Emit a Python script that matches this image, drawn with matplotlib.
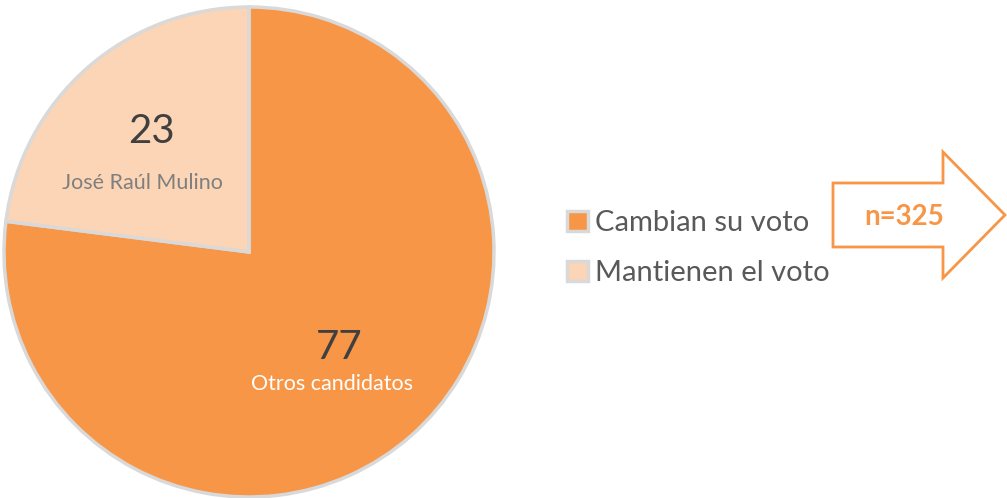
import matplotlib.pyplot as plt
from matplotlib.patches import Polygon

plt.rcParams['font.family'] = ['Lato', 'DejaVu Sans']

categories = ['Cambian su voto', 'Mantienen el voto']
values = [77, 23]
slice_labels = ['Otros candidatos', 'José Raúl Mulino']
colors = ['#F79646', '#FBD5B5']
sample_text = 'n=325'

W, H = 1007, 498
fig = plt.figure(figsize=(W / 100, H / 100), dpi=100)

# pie axes: centre ~ (249, 252), radius ~245 px
r = 245
cx, cy = 249, 252
ax = fig.add_axes([(cx - r) / W, (H - cy - r) / H, 2 * r / W, 2 * r / H])
wedges, _ = ax.pie(values, colors=colors, startangle=90, counterclock=False,
                   wedgeprops=dict(edgecolor='#D9D9D9', linewidth=2.5))
for w in wedges:
    w.set_clip_on(False)
ax.set_xlim(-1, 1)
ax.set_ylim(-1, 1)

# value / label positions inside the slices (axes units)
num_pos = [(0.37, -0.39), (-0.40, 0.49)]
lab_pos = [(0.34, -0.54), (-0.435, 0.28)]
num_colors = ['#404040', '#404040']
lab_colors = ['white', '#7F7F7F']
for v, lbl, npos, lpos, nc, lc in zip(values, slice_labels, num_pos, lab_pos, num_colors, lab_colors):
    ax.text(*npos, str(v), ha='center', va='center', fontsize=29, color=nc)
    ax.text(*lpos, lbl, ha='center', va='center', fontsize=15.5, color=lc)

# overlay in pixel coordinates for legend + arrow
ov = fig.add_axes([0, 0, 1, 1], zorder=-1)
ov.set_xlim(0, W)
ov.set_ylim(H, 0)
ov.axis('off')

arrow = [(833, 183), (943, 183), (943, 152), (1005, 215), (943, 278), (943, 247), (833, 247)]
ov.add_patch(Polygon(arrow, closed=True, facecolor='white', edgecolor='#F79646', linewidth=2))
ov.text(904, 217, sample_text, ha='center', va='center', fontsize=20, fontweight='bold', color='#F79646')

leg = ov.legend(wedges, categories, loc='center left', bbox_to_anchor=(541 / W, 1 - 248 / H),
                bbox_transform=fig.transFigure, frameon=False, fontsize=21,
                handlelength=0.7, handleheight=0.7, handletextpad=0.25, labelspacing=0.82,
                labelcolor='#595959')

fig.savefig('out.png', dpi=100)
